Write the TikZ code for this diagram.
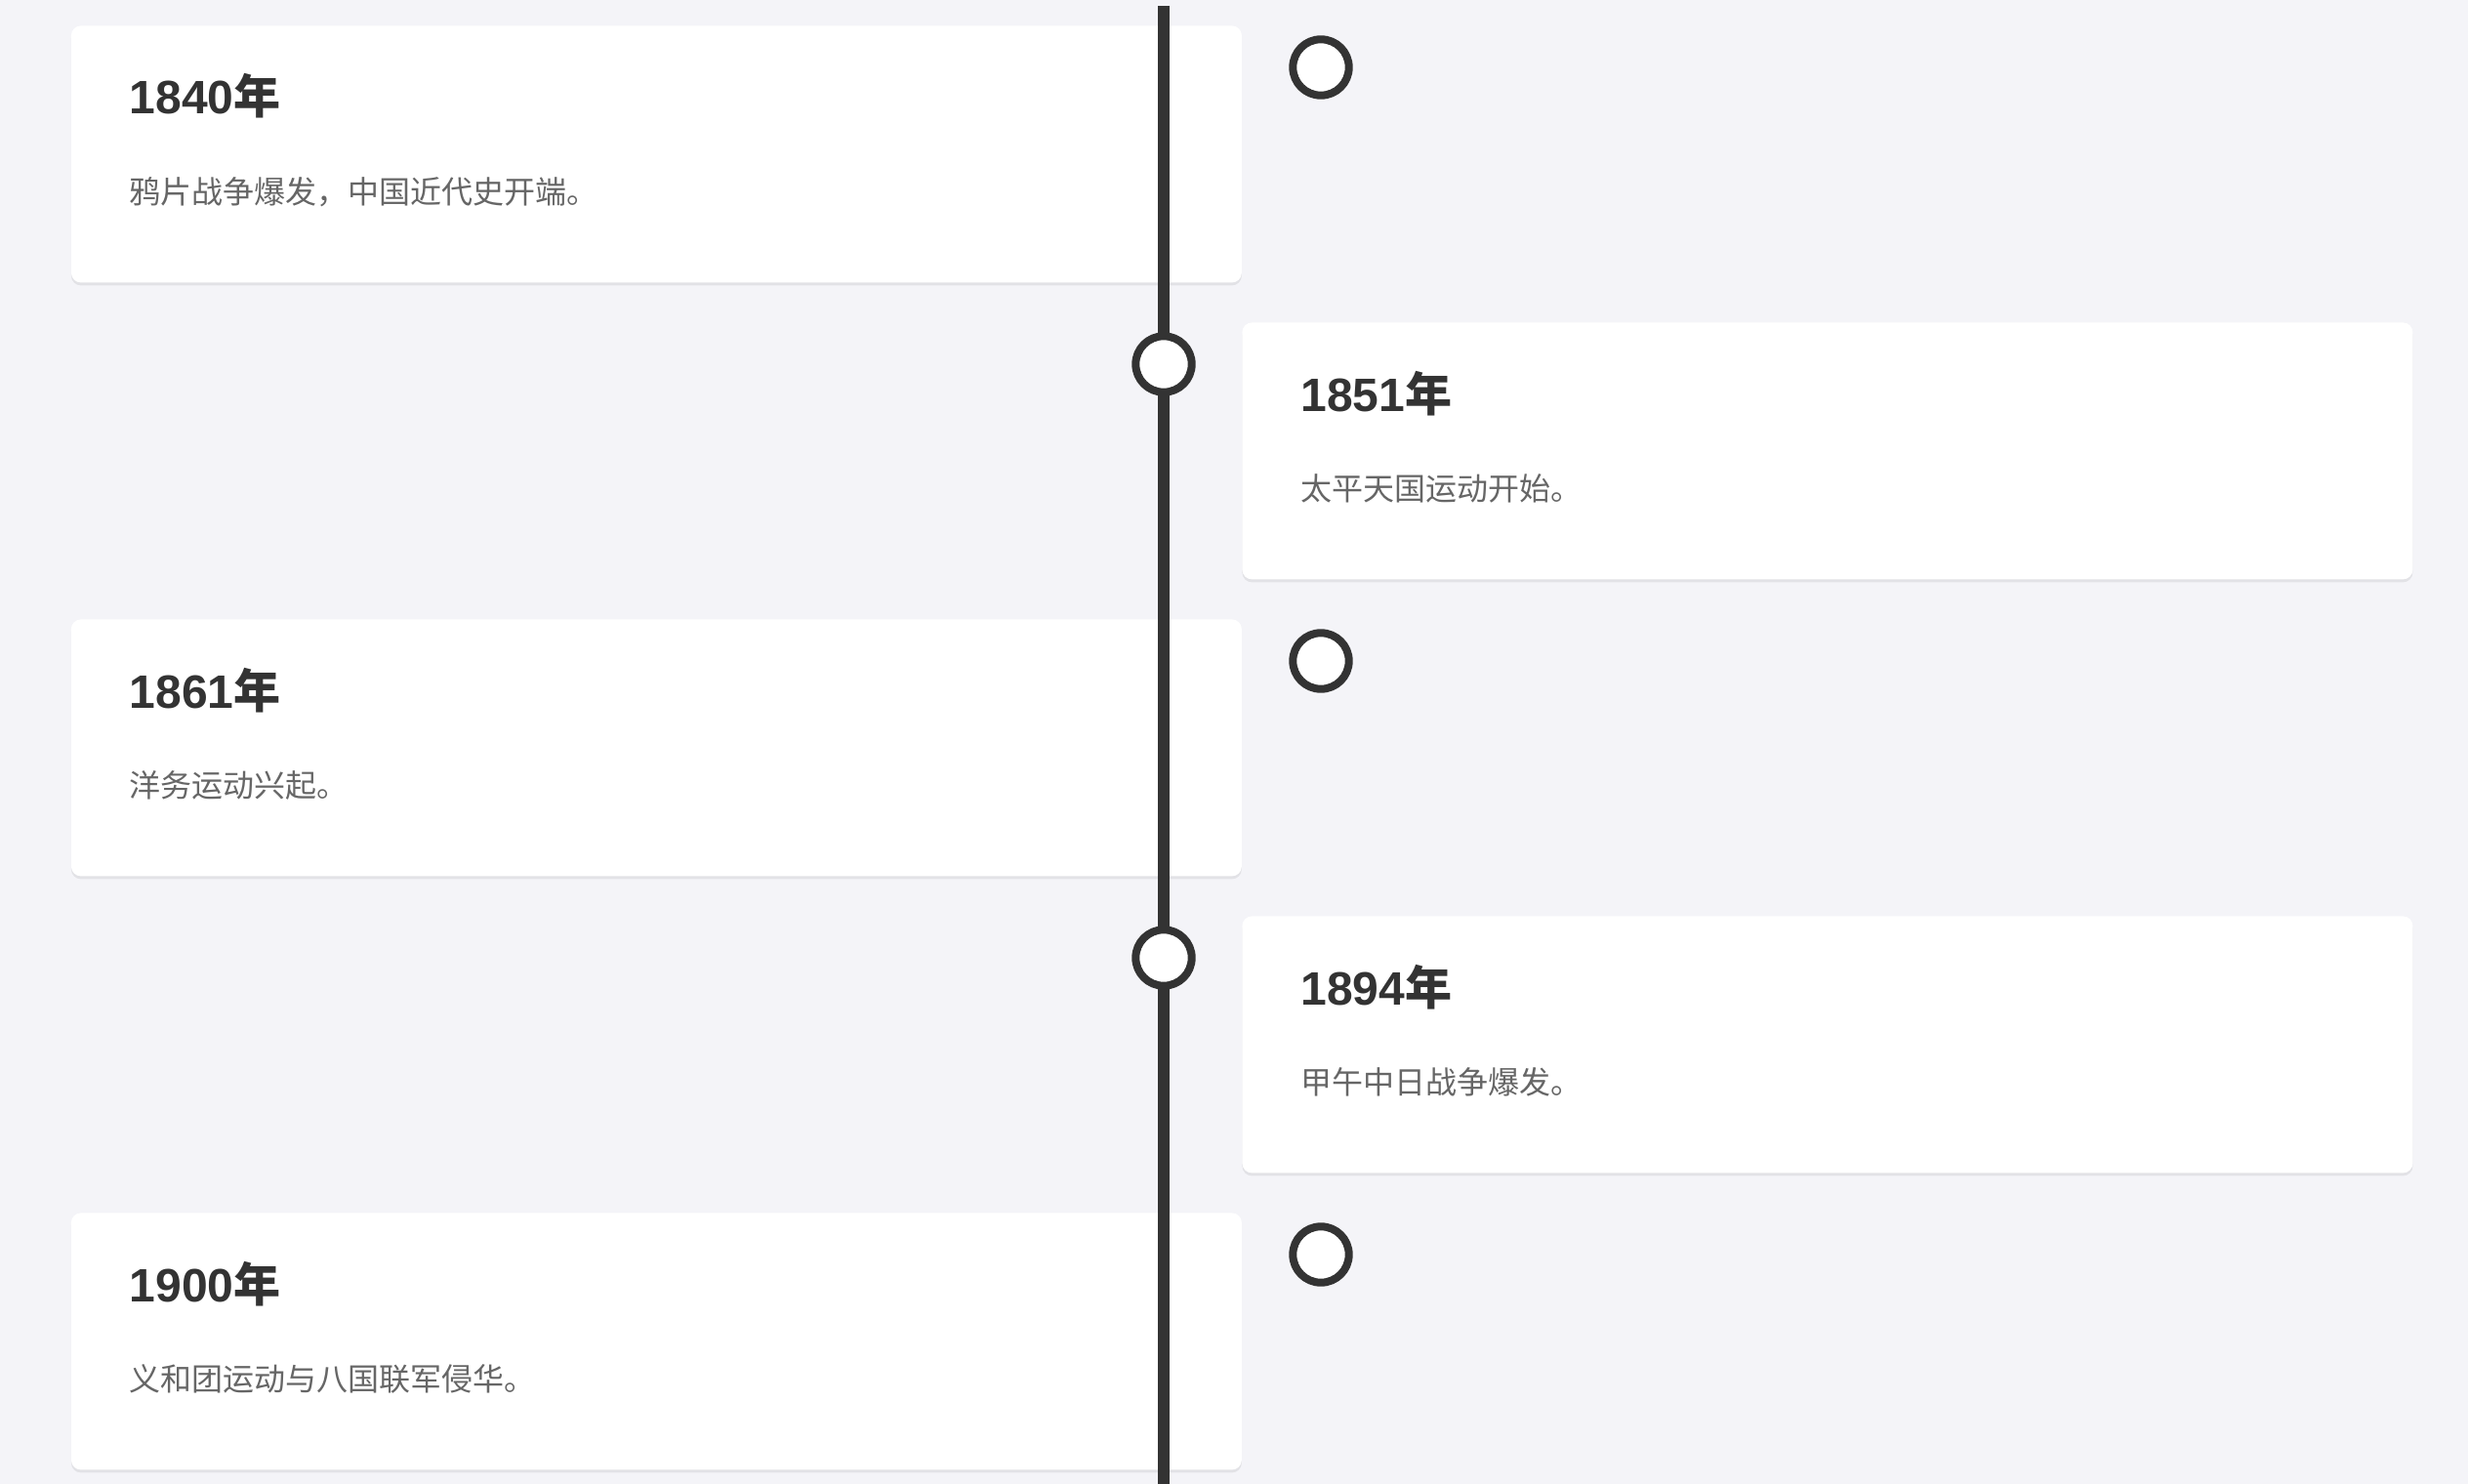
\documentclass[tikz,border=0pt]{standalone}
\usepackage{fontspec}
\setmainfont{Liberation Sans}
\newfontfamily\cjk{Noto Sans CJK SC}
\usetikzlibrary{shadows}
\definecolor{pagebg}{HTML}{F4F4F8}
\definecolor{ink}{HTML}{333333}
\definecolor{textgray}{HTML}{666666}

\begin{document}
\begin{tikzpicture}[x=1pt,y=-1pt,
  card/.style={fill=white,rounded corners=5pt,minimum width=599.5pt,minimum height=131.5pt,
    inner sep=0pt,anchor=north west,
    drop shadow={shadow xshift=0pt,shadow yshift=-1.5pt,opacity=0.07,fill=black}},
  year/.style={anchor=base west,inner sep=0pt,text=ink,font=\fontsize{24}{28}\selectfont\bfseries},
  event/.style={anchor=base west,inner sep=0pt,text=textgray,font=\cjk\fontsize{16}{20}\selectfont},
  dot/.style={circle,draw=ink,line width=4pt,fill=white,minimum size=28.7pt,inner sep=0pt}]
\path[use as bounding box,fill=pagebg] (0,0) rectangle (1264,760);

% cards
\node[card] (c1) at (36.25,13) {};
\node[card] (c2) at (636,165) {};
\node[card] (c3) at (36.25,317) {};
\node[card] (c4) at (636,469) {};
\node[card] (c5) at (36.25,621) {};

\node[year] (y1) at ([xshift=30pt,yshift=-45.5pt]c1.north west) {1840{\cjk 年}};
\node[event] (e1) at ([xshift=30pt,yshift=-91pt]c1.north west) {鸦片战争爆发，中国近代史开端。};
\node[year] (y2) at ([xshift=30pt,yshift=-45.5pt]c2.north west) {1851{\cjk 年}};
\node[event] (e2) at ([xshift=30pt,yshift=-91pt]c2.north west) {太平天国运动开始。};
\node[year] (y3) at ([xshift=30pt,yshift=-45.5pt]c3.north west) {1861{\cjk 年}};
\node[event] (e3) at ([xshift=30pt,yshift=-91pt]c3.north west) {洋务运动兴起。};
\node[year] (y4) at ([xshift=30pt,yshift=-45.5pt]c4.north west) {1894{\cjk 年}};
\node[event] (e4) at ([xshift=30pt,yshift=-91pt]c4.north west) {甲午中日战争爆发。};
\node[year] (y5) at ([xshift=30pt,yshift=-45.5pt]c5.north west) {1900{\cjk 年}};
\node[event] (e5) at ([xshift=30pt,yshift=-91pt]c5.north west) {义和团运动与八国联军侵华。};

% axis
\coordinate (axtop) at (596,3);
\coordinate (axbot) at (596,760);
\draw[ink,line width=6pt] (axtop) -- (axbot);

\node[dot] (d1) at (676.5,34.5) {};
\node[dot] (d2) at (596,186.5) {};
\node[dot] (d3) at (676.5,338.5) {};
\node[dot] (d4) at (596,490.5) {};
\node[dot] (d5) at (676.5,642.5) {};
\end{tikzpicture}
\end{document}
